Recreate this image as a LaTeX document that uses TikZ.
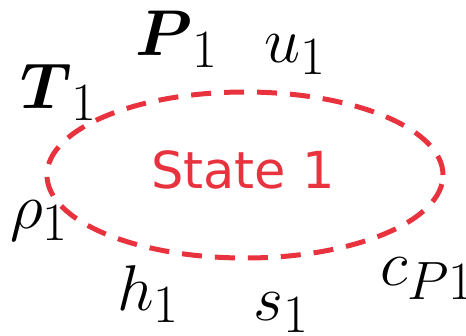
\documentclass[tikz,border=0pt]{standalone}
\usepackage{amsmath}
\usepackage{graphicx}
\usepackage{fontspec}
\usetikzlibrary{shapes.geometric}
\newfontfamily\statefont{DejaVu Sans}
\definecolor{statered}{RGB}{232,51,63}
\newcommand{\biglbl}[1]{\scalebox{2.6}{\fontsize{24.88}{28}\selectfont$#1$}}
\begin{document}
\begin{tikzpicture}[x=1pt,y=-1pt,
  lbl/.style={inner sep=0pt,anchor=base west,text=black},
  stateline/.style={draw=statered,line width=5pt,dash pattern=on 20pt off 13pt}]
\useasboundingbox (0,0) rectangle (466,335);
\node[stateline,ellipse,minimum width=396pt,minimum height=166pt,inner sep=0pt] (state) at (245,175) {};
\node[text=statered,inner sep=0pt,anchor=base,font=\statefont\fontsize{51}{56}\selectfont] (lbl) at (243,188) {State 1};
\node[lbl] (T) at (20,108) {\biglbl{\boldsymbol{T}_1}};
\node[lbl] (P) at (135,55) {\biglbl{\boldsymbol{P}_1}};
\node[lbl] (u) at (264,62) {\biglbl{u_1}};
\node[lbl] (rho) at (10,228) {\biglbl{\rho_1}};
\node[lbl] (h) at (117,310) {\biglbl{h_1}};
\node[lbl] (s) at (253,320) {\biglbl{s_1}};
\node[lbl] (c) at (380,285) {\biglbl{c_{P1}}};
\end{tikzpicture}
\end{document}
